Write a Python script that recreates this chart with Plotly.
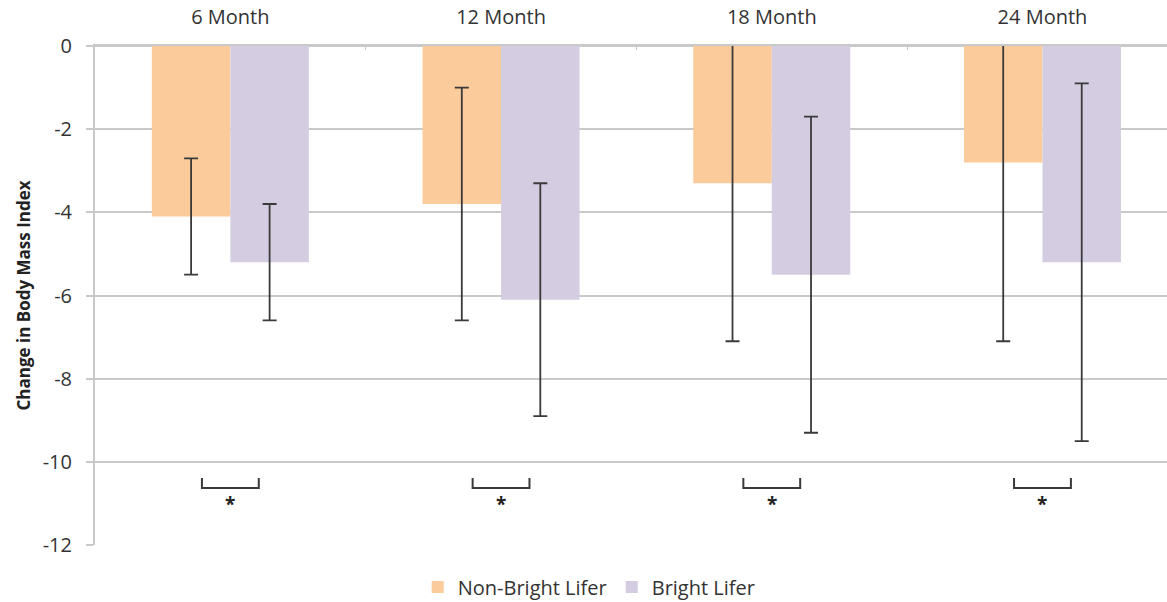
import plotly.graph_objects as go

categories = ["6 Month", "12 Month", "18 Month", "24 Month"]
non_bright = [-4.1, -3.8, -3.3, -2.8]
non_bright_err = [1.4, 2.8, 3.8, 4.3]
bright = [-5.2, -6.1, -5.5, -5.2]
bright_err = [1.4, 2.8, 3.8, 4.3]
y_ticks = [0, -2, -4, -6, -8, -10, -12]
sig_marks = ["*", "*", "*", "*"]

FONT = "Open Sans"
TXT = "#333333"
GRID = "#c9c9c9"
ERR = "#3a3a3a"

fig = go.Figure()
fig.add_trace(go.Bar(
    name="Non-Bright Lifer", x=categories, y=non_bright,
    marker=dict(color="#fbcb9c", line=dict(width=0)),
    error_y=dict(type="data", array=non_bright_err, visible=True,
                 color=ERR, thickness=1.8, width=7),
))
fig.add_trace(go.Bar(
    name="Bright Lifer", x=categories, y=bright,
    marker=dict(color="#d4cce1", line=dict(width=0)),
    error_y=dict(type="data", array=bright_err, visible=True,
                 color=ERR, thickness=1.8, width=7),
))

# significance brackets and asterisks
for i, mark in enumerate(sig_marks):
    x0, x1 = i - 0.105, i + 0.105
    fig.add_shape(
        type="path",
        path=f"M {x0},-10.39 L {x0},-10.63 L {x1},-10.63 L {x1},-10.39",
        xref="x", yref="y",
        line=dict(color=ERR, width=2),
    )
    fig.add_annotation(
        x=i, y=-10.92, xref="x", yref="y", text=f"<b>{mark}</b>", showarrow=False,
        font=dict(family=FONT, size=19, color="#222222"),
        yanchor="middle", yshift=-4,
    )

fig.update_layout(
    width=1167, height=602,
    margin=dict(l=95, r=0, t=46, b=57, autoexpand=False),
    paper_bgcolor="white", plot_bgcolor="white",
    barmode="group", bargap=0.42, bargroupgap=0,
    font=dict(family=FONT, size=20, color=TXT),
    showlegend=True,
    legend=dict(
        orientation="h", x=0.461, xanchor="center", y=-0.084, yanchor="middle",
        font=dict(family=FONT, size=20, color=TXT),
        itemwidth=30, tracegroupgap=0,
    ),
    xaxis=dict(
        side="top", type="category", range=[-0.5, 3.46],
        showgrid=False, showline=True, linecolor=GRID, linewidth=2,
        ticks="inside", tickson="boundaries", ticklen=4, tickcolor=GRID,
        tickfont=dict(family=FONT, size=20, color=TXT),
        ticklabelstandoff=12, automargin=False,
    ),
    yaxis=dict(
        range=[-12, 0], tickvals=y_ticks, ticktext=[str(v) for v in y_ticks],
        showgrid=True, gridcolor=GRID, gridwidth=2,
        zeroline=True, zerolinecolor=GRID, zerolinewidth=2,
        showline=True, linecolor=GRID, linewidth=2,
        ticks="outside", ticklen=7, tickcolor=GRID, tickwidth=2,
        tickfont=dict(family=FONT, size=20, color=TXT),
        ticklabelstandoff=10, automargin=False,
        title=dict(text="<b>Change in Body Mass Index</b>", standoff=8,
                   font=dict(family=FONT, size=17, color="#222222")),
    ),
)

fig.write_html(
    "out.html",
    config={"displayModeBar": False},
    post_script="document.body.style.margin='0';document.body.style.padding='0';",
)
